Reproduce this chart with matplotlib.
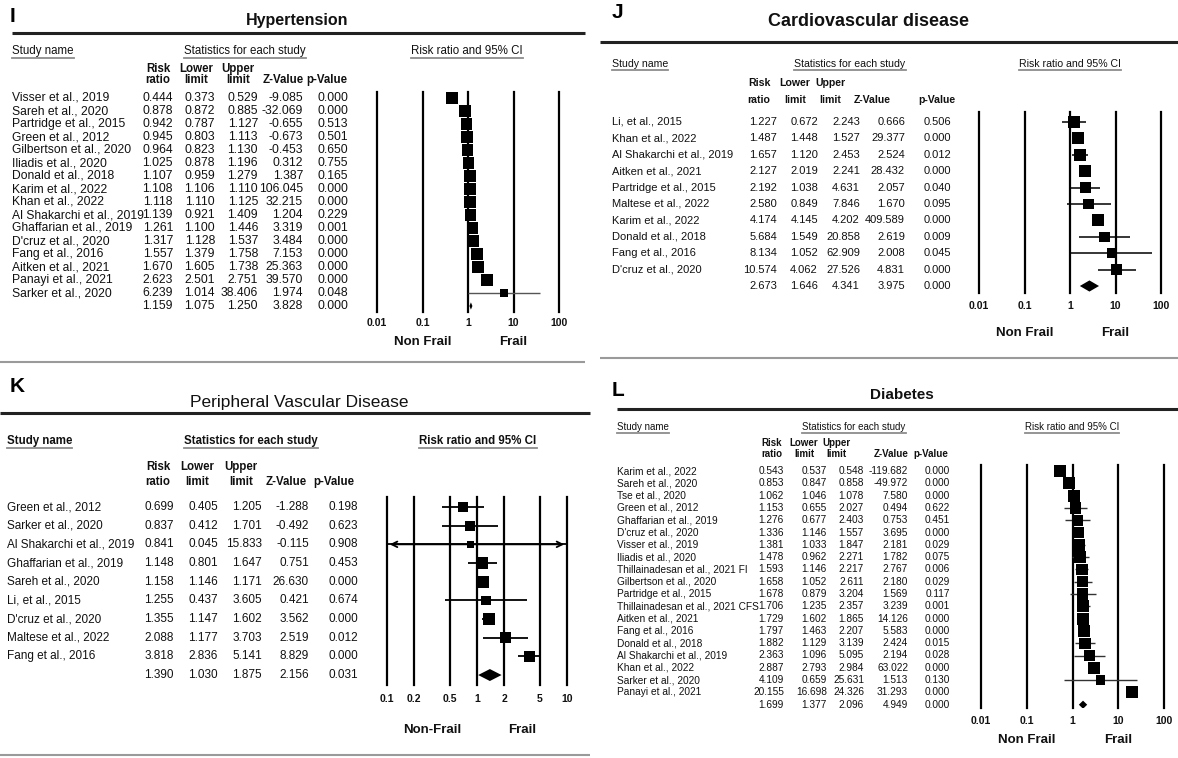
import matplotlib
matplotlib.use('Agg')
import matplotlib.pyplot as plt
import numpy as np

plt.rcParams['font.family'] = ['Liberation Sans', 'DejaVu Sans']

# ---------------- data ----------------
# I. Hypertension
ht_study = ['Visser et al., 2019', 'Sareh et al., 2020', 'Partridge et al., 2015', 'Green et al., 2012',
            'Gilbertson et al., 2020', 'Iliadis et al., 2020', 'Donald et al., 2018', 'Karim et al., 2022',
            'Khan et al., 2022', 'Al Shakarchi et al., 2019', 'Ghaffarian et al., 2019', "D'cruz et al., 2020",
            'Fang et al., 2016', 'Aitken et al., 2021', 'Panayi et al., 2021', 'Sarker et al., 2020']
ht_rr = [0.444, 0.878, 0.942, 0.945, 0.964, 1.025, 1.107, 1.108, 1.118, 1.139, 1.261, 1.317, 1.557, 1.670, 2.623, 6.239]
ht_lo = [0.373, 0.872, 0.787, 0.803, 0.823, 0.878, 0.959, 1.106, 1.110, 0.921, 1.100, 1.128, 1.379, 1.605, 2.501, 1.014]
ht_hi = [0.529, 0.885, 1.127, 1.113, 1.130, 1.196, 1.279, 1.110, 1.125, 1.409, 1.446, 1.537, 1.758, 1.738, 2.751, 38.406]
ht_z = [-9.085, -32.069, -0.655, -0.673, -0.453, 0.312, 1.387, 106.045, 32.215, 1.204, 3.319, 3.484, 7.153,
        25.363, 39.570, 1.974]
ht_p = [0.000, 0.000, 0.513, 0.501, 0.650, 0.755, 0.165, 0.000, 0.000, 0.229, 0.001, 0.000, 0.000, 0.000, 0.000, 0.048]
ht_pooled = [1.159, 1.075, 1.250, 3.828, 0.000]

# J. Cardiovascular disease
cv_study = ['Li, et al., 2015', 'Khan et al., 2022', 'Al Shakarchi et al., 2019', 'Aitken et al., 2021',
            'Partridge et al., 2015', 'Maltese et al., 2022', 'Karim et al., 2022', 'Donald et al., 2018',
            'Fang et al., 2016', "D'cruz et al., 2020"]
cv_rr = [1.227, 1.487, 1.657, 2.127, 2.192, 2.580, 4.174, 5.684, 8.134, 10.574]
cv_lo = [0.672, 1.448, 1.120, 2.019, 1.038, 0.849, 4.145, 1.549, 1.052, 4.062]
cv_hi = [2.243, 1.527, 2.453, 2.241, 4.631, 7.846, 4.202, 20.858, 62.909, 27.526]
cv_z = [0.666, 29.377, 2.524, 28.432, 2.057, 1.670, 409.589, 2.619, 2.008, 4.831]
cv_p = [0.506, 0.000, 0.012, 0.000, 0.040, 0.095, 0.000, 0.009, 0.045, 0.000]
cv_pooled = [2.673, 1.646, 4.341, 3.975, 0.000]

# K. Peripheral vascular disease
pvd_study = ['Green et al., 2012', 'Sarker et al., 2020', 'Al Shakarchi et al., 2019', 'Ghaffarian et al., 2019',
             'Sareh et al., 2020', 'Li, et al., 2015', "D'cruz et al., 2020", 'Maltese et al., 2022',
             'Fang et al., 2016']
pvd_rr = [0.699, 0.837, 0.841, 1.148, 1.158, 1.255, 1.355, 2.088, 3.818]
pvd_lo = [0.405, 0.412, 0.045, 0.801, 1.146, 0.437, 1.147, 1.177, 2.836]
pvd_hi = [1.205, 1.701, 15.833, 1.647, 1.171, 3.605, 1.602, 3.703, 5.141]
pvd_z = [-1.288, -0.492, -0.115, 0.751, 26.630, 0.421, 3.562, 2.519, 8.829]
pvd_p = [0.198, 0.623, 0.908, 0.453, 0.000, 0.674, 0.000, 0.012, 0.000]
pvd_pooled = [1.390, 1.030, 1.875, 2.156, 0.031]

# L. Diabetes
dm_study = ['Karim et al., 2022', 'Sareh et al., 2020', 'Tse et al., 2020', 'Green et al., 2012',
            'Ghaffarian et al., 2019', "D'cruz et al., 2020", 'Visser et al., 2019', 'Iliadis et al., 2020',
            'Thillainadesan et al., 2021 FI', 'Gilbertson et al., 2020', 'Partridge et al., 2015',
            'Thillainadesan et al., 2021 CFS', 'Aitken et al., 2021', 'Fang et al., 2016', 'Donald et al., 2018',
            'Al Shakarchi et al., 2019', 'Khan et al., 2022', 'Sarker et al., 2020', 'Panayi et al., 2021']
dm_rr = [0.543, 0.853, 1.062, 1.153, 1.276, 1.336, 1.381, 1.478, 1.593, 1.658, 1.678, 1.706, 1.729, 1.797,
         1.882, 2.363, 2.887, 4.109, 20.155]
dm_lo = [0.537, 0.847, 1.046, 0.655, 0.677, 1.146, 1.033, 0.962, 1.146, 1.052, 0.879, 1.235, 1.602, 1.463,
         1.129, 1.096, 2.793, 0.659, 16.698]
dm_hi = [0.548, 0.858, 1.078, 2.027, 2.403, 1.557, 1.847, 2.271, 2.217, 2.611, 3.204, 2.357, 1.865, 2.207,
         3.139, 5.095, 2.984, 25.631, 24.326]
dm_z = [-119.682, -49.972, 7.580, 0.494, 0.753, 3.695, 2.181, 1.782, 2.767, 2.180, 1.569, 3.239, 14.126,
        5.583, 2.424, 2.194, 63.022, 1.513, 31.293]
dm_p = [0.000, 0.000, 0.000, 0.622, 0.451, 0.000, 0.029, 0.075, 0.006, 0.029, 0.117, 0.001, 0.000, 0.000,
        0.015, 0.028, 0.000, 0.130, 0.000]
dm_pooled = [1.699, 1.377, 2.096, 4.949, 0.000]

# ---------------- layout (pixels, top-left origin) ----------------
W, H = 1178, 758
INK = '#111111'

lay_I = dict(letter=(10, 17, 'I'), title='Hypertension', title_xy=(297, 20), title_fs=11.5, title_w='bold',
             rule=(12, 585, 33), foot=(0, 585, 362), fs=8.7, hfs=8.3, hw='normal', name_x=12, head_y=51,
             stats_x=245, ci_x=467, col_y=(69, 80), head_cx=[158, 196, 238, 283, 327], rows=(98, 13),
             num_x=[173, 215, 258, 303, 348], plot=(377, 92, 559, 312), ticks=[0.01, 0.1, 1, 10, 100],
             tick_y=322, nf=(0.1, 10, 342, 'Non Frail'), box=(7.5, 12), dia_h=0.28, ci_color='#555555', ci_lw=1.0)
lay_J = dict(letter=(612, 13, 'J'), title='Cardiovascular disease', title_xy=(869, 22), title_fs=13, title_w='bold',
             rule=(600, 1178, 42), foot=(600, 1178, 358), fs=8, hfs=7.6, hw='normal', name_x=612, head_y=64,
             stats_x=850, ci_x=1070, col_y=(83, 100), head_cx=[759, 795, 830, 872, 937], rows=(122, 16.4),
             num_x=[777, 818, 860, 905, 951], plot=(979, 112, 1161, 293), ticks=[0.01, 0.1, 1, 10, 100],
             tick_y=305, nf=(0.1, 10, 333, 'Non Frail'), box=(6.5, 12), dia_h=0.34, ci_color='black', ci_lw=1.1)
lay_K = dict(letter=(10, 387, 'K'), title='Peripheral Vascular Disease', title_xy=(299, 403), title_fs=12.5,
             title_w='normal', rule=(0, 590, 413), foot=(0, 590, 755), fs=8.5, hfs=8.3, hw='bold', name_x=7,
             head_y=441, stats_x=251, ci_x=478, col_y=(467, 482), head_cx=[158, 197, 241, 286, 334],
             rows=(507, 18.67), num_x=[174, 218, 262, 309, 358], plot=(387, 497, 567, 685),
             ticks=[0.1, 0.2, 0.5, 1, 2, 5, 10], tick_y=698, nf=(10 ** -0.5, 10 ** 0.5, 730, 'Non-Frail'),
             box=(6, 12), dia_h=0.32, ci_color='black', ci_lw=1.3)
lay_L = dict(letter=(612, 391, 'L'), title='Diabetes', title_xy=(902, 395), title_fs=11, title_w='bold',
             rule=(617, 1178, 409), foot=None, fs=7.3, hfs=7.0, hw='normal', name_x=617, head_y=427,
             stats_x=854, ci_x=1072, col_y=(443, 454), head_cx=[772, 804, 836, 891, 931], rows=(471, 12.3),
             num_x=[784, 827, 864, 908, 950], plot=(981, 465, 1164, 708), ticks=[0.01, 0.1, 1, 10, 100],
             tick_y=720, nf=(0.1, 10, 740, 'Non Frail'), box=(8, 12), dia_h=0.33, ci_color='#333333', ci_lw=1.0)

fig = plt.figure(figsize=(W / 100, H / 100), dpi=100)
bg = fig.add_axes([0, 0, 1, 1])
bg.set_xlim(0, W)
bg.set_ylim(H, 0)
bg.axis('off')
underlined = []


def box_sides(rr, lo, hi, smin, smax):
    # random-effects (DerSimonian-Laird) weights -> square size
    y = np.log(rr)
    v = ((np.log(hi) - np.log(lo)) / 3.92) ** 2
    w = 1 / v
    ybar = np.sum(w * y) / np.sum(w)
    q = np.sum(w * (y - ybar) ** 2)
    c = np.sum(w) - np.sum(w ** 2) / np.sum(w)
    tau2 = max(0.0, (q - (len(y) - 1)) / c)
    ws = 1 / (v + tau2)
    return smin + (smax - smin) * np.sqrt(ws / ws.max())


def draw_panel(study, rr, lo, hi, z, p, pooled, lay):
    rr, lo, hi = np.asarray(rr), np.asarray(lo), np.asarray(hi)
    fs, hfs = lay['fs'], lay['hfs']
    lx, ly, letter = lay['letter']
    bg.text(lx, ly, letter, fontsize=15, fontweight='bold', va='center', color='black')
    tx, ty = lay['title_xy']
    bg.text(tx, ty, lay['title'], fontsize=lay['title_fs'], fontweight=lay['title_w'],
            ha='center', va='center', color=INK)
    x0, x1, yr = lay['rule']
    bg.plot([x0, x1], [yr, yr], color='#222222', lw=2.2, solid_capstyle='butt')
    if lay['foot']:
        x0, x1, yf = lay['foot']
        bg.plot([x0, x1], [yf, yf], color='#9a9a9a', lw=1.5, solid_capstyle='butt')

    yh = lay['head_y']
    kw = dict(fontsize=hfs, fontweight=lay['hw'], va='center', color=INK)
    underlined.append(bg.text(lay['name_x'], yh, 'Study name', ha='left', **kw))
    underlined.append(bg.text(lay['stats_x'], yh, 'Statistics for each study', ha='center', **kw))
    underlined.append(bg.text(lay['ci_x'], yh, 'Risk ratio and 95% CI', ha='center', **kw))

    heads = [('Risk', 'ratio'), ('Lower', 'limit'), ('Upper', 'limit'), ('', 'Z-Value'), ('', 'p-Value')]
    for cx, (a, b) in zip(lay['head_cx'], heads):
        for yy, s in zip(lay['col_y'], (a, b)):
            bg.text(cx, yy, s, ha='center', va='center', fontsize=hfs, fontweight='bold', color=INK)

    y0, dy = lay['rows']
    n = len(study)
    for i in range(n):
        y = y0 + i * dy
        bg.text(lay['name_x'], y, study[i], ha='left', va='center', fontsize=fs, color=INK)
        for xr, v in zip(lay['num_x'], (rr[i], lo[i], hi[i], z[i], p[i])):
            bg.text(xr, y, f'{v:.3f}', ha='right', va='center', fontsize=fs, color=INK)
    for xr, v in zip(lay['num_x'], pooled):
        bg.text(xr, y0 + n * dy, f'{v:.3f}', ha='right', va='center', fontsize=fs, color=INK)

    # forest plot
    fx0, fy0, fx1, fy1 = lay['plot']
    ax = fig.add_axes([fx0 / W, 1 - fy1 / H, (fx1 - fx0) / W, (fy1 - fy0) / H])
    ax.set_xscale('log')
    ticks = lay['ticks']
    ax.set_xlim(ticks[0], ticks[-1])
    ax.set_ylim((fy1 - y0) / dy, (fy0 - y0) / dy)
    for t in ticks:
        ax.axvline(t, color='black', lw=1.6, clip_on=False, zorder=1)
    ax.set_xticks(ticks)
    ax.set_xticklabels([f'{t:g}' for t in ticks], fontsize=7.5, fontweight='bold', color=INK)
    ax.minorticks_off()
    ax.tick_params(axis='x', length=0, pad=(lay['tick_y'] - fy1 - 4) * 0.72)
    ax.set_yticks([])
    for s in ax.spines.values():
        s.set_visible(False)
    ax.patch.set_visible(False)

    rows = np.arange(n)
    lo_c = np.clip(lo, ticks[0], ticks[-1])
    hi_c = np.clip(hi, ticks[0], ticks[-1])
    ax.hlines(rows, lo_c, hi_c, color=lay['ci_color'], lw=lay['ci_lw'], zorder=2)
    for i in rows:
        arr = dict(arrowstyle='->,head_length=0.4,head_width=0.2', color=lay['ci_color'], lw=lay['ci_lw'])
        if lo[i] < ticks[0]:
            ax.annotate('', xy=(ticks[0], i), xytext=(rr[i], i), arrowprops=arr, annotation_clip=False)
        if hi[i] > ticks[-1]:
            ax.annotate('', xy=(ticks[-1], i), xytext=(rr[i], i), arrowprops=arr, annotation_clip=False)
    side = box_sides(rr, lo, hi, *lay['box'])
    ax.scatter(rr, rows, s=(side * 0.72) ** 2, marker='s', color='black', linewidths=0, zorder=3)
    h = lay['dia_h']
    ax.fill([pooled[1], pooled[0], pooled[2], pooled[0]], [n, n - h, n, n + h], color='black', lw=0, zorder=3)

    xnf, xf, ynf, lab = lay['nf']
    ax.text(xnf, (ynf - y0) / dy, lab, ha='center', va='center', fontsize=9.5, fontweight='bold', color=INK)
    ax.text(xf, (ynf - y0) / dy, 'Frail', ha='center', va='center', fontsize=9.5, fontweight='bold', color=INK)


draw_panel(ht_study, ht_rr, ht_lo, ht_hi, ht_z, ht_p, ht_pooled, lay_I)
draw_panel(cv_study, cv_rr, cv_lo, cv_hi, cv_z, cv_p, cv_pooled, lay_J)
draw_panel(pvd_study, pvd_rr, pvd_lo, pvd_hi, pvd_z, pvd_p, pvd_pooled, lay_K)
draw_panel(dm_study, dm_rr, dm_lo, dm_hi, dm_z, dm_p, dm_pooled, lay_L)

# grey underline under the section headers
fig.canvas.draw()
r = fig.canvas.get_renderer()
inv = bg.transData.inverted()
for t in underlined:
    bb = t.get_window_extent(r)
    (xa, ya), (xb, yb) = inv.transform([[bb.x0, bb.y0], [bb.x1, bb.y1]])
    bg.plot([xa, xb], [ya + 0.5, ya + 0.5], color='#8c8c8c', lw=1.3)

fig.savefig('out.png', dpi=100)
